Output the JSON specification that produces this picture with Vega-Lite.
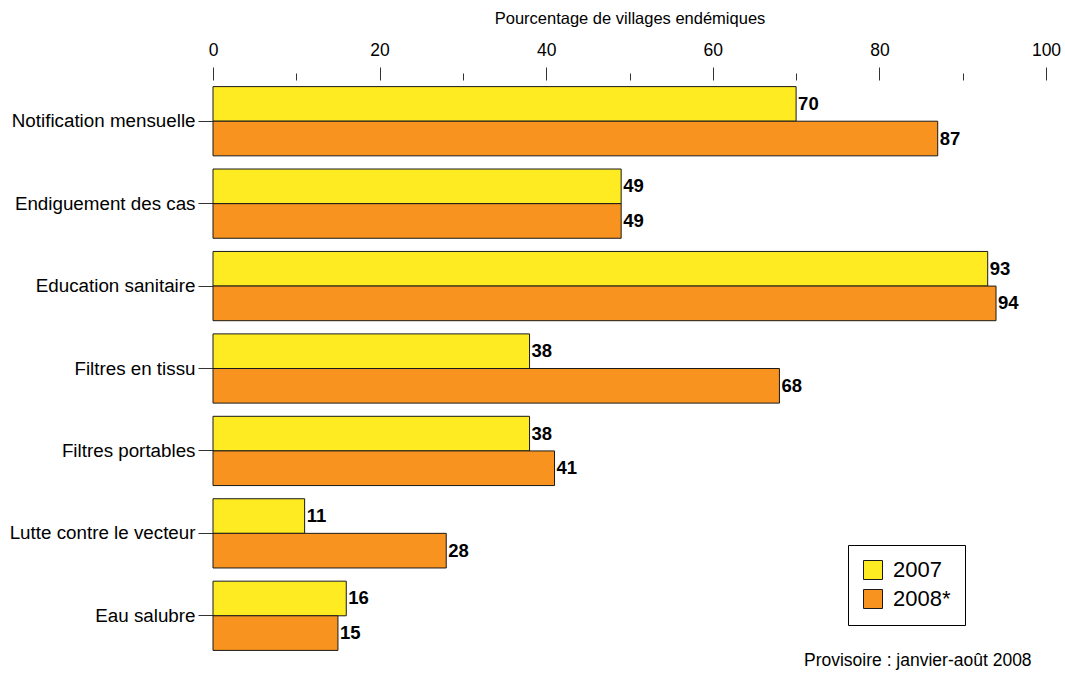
{
  "$schema": "https://vega.github.io/schema/vega-lite/v6.json",
  "width": 833,
  "height": 577,
  "autosize": {"type": "none"},
  "padding": {"left": 213, "top": 80, "right": 19, "bottom": 16},
  "background": "white",
  "config": {
    "font": "Liberation Sans",
    "view": {"stroke": null}
  },
  "title": {
    "text": "Provisoire : janvier-août 2008",
    "orient": "bottom",
    "anchor": "end",
    "fontSize": 17.5,
    "fontWeight": "normal",
    "color": "#000000",
    "offset": -5,
    "dx": -29
  },
  "data": {
    "values": [
      {"cat": "Notification mensuelle", "year": "2007", "value": 70},
      {"cat": "Notification mensuelle", "year": "2008*", "value": 87},
      {"cat": "Endiguement des cas", "year": "2007", "value": 49},
      {"cat": "Endiguement des cas", "year": "2008*", "value": 49},
      {"cat": "Education sanitaire", "year": "2007", "value": 93},
      {"cat": "Education sanitaire", "year": "2008*", "value": 94},
      {"cat": "Filtres en tissu", "year": "2007", "value": 38},
      {"cat": "Filtres en tissu", "year": "2008*", "value": 68},
      {"cat": "Filtres portables", "year": "2007", "value": 38},
      {"cat": "Filtres portables", "year": "2008*", "value": 41},
      {"cat": "Lutte contre le vecteur", "year": "2007", "value": 11},
      {"cat": "Lutte contre le vecteur", "year": "2008*", "value": 28},
      {"cat": "Eau salubre", "year": "2007", "value": 16},
      {"cat": "Eau salubre", "year": "2008*", "value": 15}
    ]
  },
  "encoding": {
    "y": {
      "field": "cat",
      "type": "nominal",
      "sort": null,
      "scale": {"paddingInner": 0.16, "paddingOuter": 0.08},
      "axis": {
        "title": null,
        "domain": false,
        "labelFontSize": 18.8,
        "labelColor": "#000000",
        "tickSize": 15,
        "tickColor": "#333333",
        "labelPadding": 3,
        "labelLimit": 250
      }
    },
    "yOffset": {"field": "year", "type": "nominal", "scale": {"paddingInner": 0, "paddingOuter": 0}},
    "x": {
      "field": "value",
      "type": "quantitative",
      "scale": {"domain": [0, 100], "nice": false},
      "axis": {
        "orient": "top",
        "title": "Pourcentage de villages endémiques",
        "titleFontSize": 16.5,
        "titleFontWeight": "normal",
        "titleColor": "#000000",
        "titlePadding": 15,
        "values": [0, 10, 20, 30, 40, 50, 60, 70, 80, 90, 100],
        "labelExpr": "datum.value % 20 === 0 ? datum.label : ''",
        "labelFontSize": 17.5,
        "labelColor": "#000000",
        "labelPadding": 8,
        "labelFlush": false,
        "domain": false,
        "grid": false,
        "tickColor": "#333333",
        "tickSize": {"condition": {"test": "datum.value % 20 === 0", "value": 13}, "value": 7}
      }
    }
  },
  "layer": [
    {
      "mark": {"type": "bar", "stroke": "#1a1a1a", "strokeWidth": 1},
      "encoding": {
        "color": {
          "field": "year",
          "type": "nominal",
          "scale": {"domain": ["2007", "2008*"], "range": ["#FFEB22", "#F7931E"]},
          "legend": {
            "title": null,
            "orient": "none",
            "legendX": 635,
            "legendY": 465,
            "strokeColor": "#000000",
            "fillColor": "#ffffff",
            "padding": 14,
            "symbolType": "square",
            "symbolSize": 361,
            "symbolStrokeColor": "#1a1a1a",
            "symbolStrokeWidth": 1,
            "labelFontSize": 22,
            "labelColor": "#000000",
            "rowPadding": 5,
            "labelOffset": 9
          }
        }
      }
    },
    {
      "mark": {"type": "text", "align": "left", "baseline": "middle", "dx": 2, "fontSize": 18.5, "fontWeight": "bold", "color": "#000000"},
      "encoding": {"text": {"field": "value", "type": "quantitative"}}
    }
  ]
}
